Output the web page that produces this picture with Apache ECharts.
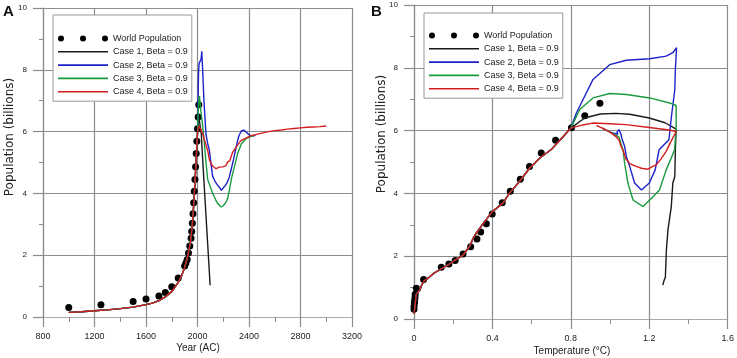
<!DOCTYPE html>
<html>
<head>
<meta charset="utf-8">
<script src="https://cdn.jsdelivr.net/npm/echarts@6/dist/echarts.min.js"></script>
<style>
  html, body { margin: 0; padding: 0; background: #fff; }
  #main { width: 737px; height: 358px; }
</style>
</head>
<body>
<div id="main"></div>
<script>
// observed world population (billions), year and temperature anomaly
const obsYears = [1000, 1250, 1500, 1600, 1700, 1750, 1800, 1850, 1900, 1910, 1920, 1930, 1940, 1950, 1955, 1960, 1965, 1970, 1975, 1980, 1985, 1990, 1995, 2000, 2005, 2010];
const obsPop = [0.31, 0.4, 0.5, 0.58, 0.68, 0.79, 0.98, 1.26, 1.65, 1.75, 1.86, 2.07, 2.3, 2.55, 2.77, 3.03, 3.34, 3.7, 4.07, 4.45, 4.86, 5.29, 5.69, 6.09, 6.47, 6.87];
const obsTemp = [0, 0, 0.002, 0.003, 0.005, 0.006, 0.012, 0.049, 0.139, 0.178, 0.21, 0.25, 0.289, 0.321, 0.34, 0.369, 0.399, 0.45, 0.491, 0.542, 0.589, 0.649, 0.722, 0.803, 0.871, 0.948];

// model run shared by all cases (panel A, by year)
const modelYears = [1000, 1100, 1200, 1300, 1400, 1500, 1600, 1650, 1700, 1750, 1800, 1850, 1875, 1900, 1920, 1940, 1950, 1960, 1970, 1980, 1990, 2000];
const modelPop = [0.15, 0.17, 0.2, 0.23, 0.27, 0.32, 0.4, 0.45, 0.53, 0.65, 0.82, 1.12, 1.32, 1.6, 1.9, 2.3, 2.6, 3.0, 3.6, 4.3, 5.1, 5.95];

// model run shared by all cases (panel B, by temperature)
const modelTemp = [0, 0.004, 0.008, 0.012, 0.02, 0.03, 0.037, 0.046, 0.05, 0.071, 0.1, 0.14, 0.18, 0.207, 0.25, 0.284, 0.3, 0.318, 0.36, 0.4, 0.453, 0.487, 0.538, 0.589, 0.64, 0.7, 0.744, 0.8];
const modelPopT = [0.16, 0.35, 0.6, 0.8, 0.85, 0.92, 1.05, 1.05, 1.2, 1.3, 1.45, 1.6, 1.75, 1.87, 2.03, 2.32, 2.55, 2.74, 3.1, 3.42, 3.69, 4.01, 4.38, 4.8, 5.12, 5.4, 5.69, 6.08];

// panel A tails after 2000
const case1Years = [2005, 2010, 2015, 2020, 2030, 2036, 2060, 2080, 2098];
const case1Pop = [6.3, 6.5, 6.55, 6.45, 5.9, 5.4, 3.7, 2.3, 1.03];
const case2Years = [2004, 2008, 2012, 2020, 2028, 2033, 2040, 2050, 2066, 2080, 2092, 2105, 2118, 2135, 2150, 2170, 2185, 2200, 2215, 2230, 2245, 2260, 2280, 2300, 2320, 2340, 2360, 2380, 2400, 2420, 2450];
const case2Pop = [6.9, 7.9, 8.2, 8.25, 8.35, 8.6, 8.0, 7.0, 5.9, 5.6, 5.4, 4.95, 4.55, 4.4, 4.3, 4.2, 4.1, 4.15, 4.25, 4.35, 4.5, 4.75, 5.1, 5.5, 5.85, 6.02, 6.05, 5.98, 5.9, 5.85, 5.88];
const case3Years = [2005, 2010, 2015, 2025, 2040, 2054, 2066, 2079, 2092, 2118, 2140, 2157, 2183, 2200, 2222, 2235, 2247, 2265, 2286, 2311, 2340, 2376, 2400, 2440];
const case3Pop = [6.6, 7.0, 7.15, 6.7, 6.2, 5.6, 5.0, 4.45, 4.3, 4.0, 3.8, 3.67, 3.56, 3.6, 3.72, 3.85, 4.1, 4.5, 4.85, 5.28, 5.6, 5.77, 5.82, 5.87];
const case4Years = [2005, 2010, 2015, 2025, 2040, 2060, 2079, 2092, 2105, 2120, 2135, 2144, 2157, 2170, 2183, 2195, 2210, 2222, 2234, 2250, 2273, 2300, 2337, 2380, 2415, 2450, 2500, 2550, 2600, 2650, 2700, 2750, 2800, 2850, 2900, 2950, 3000];
const case4Pop = [6.1, 6.18, 6.2, 6.08, 5.93, 5.65, 5.39, 5.1, 4.96, 4.88, 4.82, 4.8, 4.76, 4.85, 4.84, 4.86, 4.84, 4.9, 5.02, 5.05, 5.33, 5.5, 5.71, 5.8, 5.87, 5.9, 5.95, 6.0, 6.03, 6.05, 6.08, 6.1, 6.12, 6.14, 6.15, 6.16, 6.18];

// panel B tails after 0.8 degC
const case1Temp = [0.87, 0.95, 1.03, 1.1, 1.2, 1.28, 1.337, 1.333, 1.33, 1.32, 1.312, 1.295, 1.287, 1.282, 1.274, 1.269];
const case1PopT = [6.4, 6.53, 6.55, 6.52, 6.4, 6.25, 6.05, 5.4, 4.54, 4.33, 3.58, 2.83, 2.19, 1.34, 1.2, 1.08];
const case2Temp = [0.828, 0.862, 0.913, 0.998, 1.083, 1.202, 1.286, 1.32, 1.339, 1.333, 1.33, 1.315, 1.3, 1.25, 1.23, 1.2, 1.16, 1.125, 1.1, 1.083, 1.074, 1.06, 1.055, 1.045, 1.035, 1.04, 1.0, 0.96];
const case2PopT = [6.56, 6.99, 7.63, 8.1, 8.24, 8.29, 8.37, 8.48, 8.64, 7.95, 7.3, 6.56, 5.71, 5.39, 4.75, 4.33, 4.11, 4.33, 4.86, 5.17, 5.5, 5.75, 5.9, 6.03, 5.95, 5.88, 5.95, 6.08];
const case3Temp = [0.845, 0.913, 0.998, 1.083, 1.202, 1.304, 1.337, 1.337, 1.329, 1.31, 1.286, 1.252, 1.202, 1.168, 1.117, 1.091, 1.074, 1.066, 1.055, 1.045, 1.0, 0.96];
const case3PopT = [6.67, 7.04, 7.18, 7.15, 7.04, 6.88, 6.8, 6.13, 5.39, 5.1, 4.75, 4.11, 3.79, 3.58, 3.79, 4.33, 4.96, 5.39, 5.6, 5.8, 5.95, 6.08];
const case4Temp = [0.86, 0.91, 1.0, 1.08, 1.2, 1.3, 1.337, 1.31, 1.286, 1.26, 1.235, 1.215, 1.193, 1.16, 1.133, 1.1, 1.08, 1.07, 1.056, 1.045, 1.03, 1.0, 0.96, 0.93];
const case4PopT = [6.18, 6.24, 6.22, 6.19, 6.1, 6.02, 5.97, 5.65, 5.34, 5.1, 4.91, 4.85, 4.77, 4.8, 4.86, 4.95, 5.1, 5.3, 5.5, 5.7, 5.81, 5.95, 6.08, 6.17];

const names = ['World Population', 'Case 1, Beta = 0.9', 'Case 2, Beta = 0.9', 'Case 3, Beta = 0.9', 'Case 4, Beta = 0.9'];
const colors = ['#000000', '#1a1a1a', '#1c22c8', '#1a9a3c', '#d41e1e'];

// pairs helper
const zip = (xs, ys) => xs.map((x, i) => [x, ys[i]]);

const tailsA = [[case1Years, case1Pop], [case2Years, case2Pop], [case3Years, case3Pop], [case4Years, case4Pop]];
const tailsB = [[case1Temp, case1PopT], [case2Temp, case2PopT], [case3Temp, case3PopT], [case4Temp, case4PopT]];

const font = '"Liberation Sans", Arial, sans-serif';
const gridColor = '#8c8c8c';

const makeX = (gi, min, max, interval) => ({
    gridIndex: gi, type: 'value', min: min, max: max, interval: interval,
    axisLine: { show: true, onZero: false, lineStyle: { color: '#aaa', width: 1.2 } },
    axisTick: { show: true, length: 10, lineStyle: { color: gridColor, width: 1.2 } },
    minorTick: { show: true, splitNumber: 2, length: 5, lineStyle: { color: gridColor } },
    splitLine: { show: true, lineStyle: { color: gridColor, width: 1.2 } },
    axisLabel: { fontSize: 9, color: '#222', margin: 15, fontFamily: font, formatter: v => String(v) }
});
const makeY = (gi) => ({
    gridIndex: gi, type: 'value', min: 0, max: 10, interval: 2,
    axisLine: { show: true, lineStyle: { color: gridColor, width: 1.2 } },
    axisTick: { show: true, length: 10, lineStyle: { color: gridColor, width: 1.2 } },
    minorTick: { show: true, splitNumber: 2, length: 4, lineStyle: { color: gridColor } },
    splitLine: { show: true, lineStyle: { color: gridColor, width: 1.2 } },
    axisLabel: { fontSize: 8, color: '#222', margin: 16, fontFamily: font }
});

// legend icons: three dots for the data, a plain stroke for the runs
const dotsIcon = 'path://M0,3a3,3 0 1,0 6,0a3,3 0 1,0 -6,0M22,3a3,3 0 1,0 6,0a3,3 0 1,0 -6,0M44,3a3,3 0 1,0 6,0a3,3 0 1,0 -6,0';
const lineIcon = 'path://M0,0L50,0L50,1.6L0,1.6Z';
const makeLegend = (left, top, padTop) => ({
    orient: 'vertical', left: left, top: top,
    padding: [padTop, 4, 5, 5],
    backgroundColor: '#fff', borderColor: '#999', borderWidth: 1,
    itemWidth: 50, itemHeight: 8, itemGap: 4.3,
    textStyle: { fontSize: 9, color: '#222', fontFamily: font, lineHeight: 8 },
    data: [{ name: names[0], icon: dotsIcon }].concat(names.slice(1).map(n => ({ name: n, icon: lineIcon })))
});

// build series
const series = [];
tailsA.forEach((t, i) => {
    series.push({
        name: names[i + 1], type: 'line', xAxisIndex: 0, yAxisIndex: 0,
        showSymbol: false, symbol: 'none', color: colors[i + 1],
        lineStyle: { width: 1.4, color: colors[i + 1] },
        data: zip(modelYears, modelPop).concat(zip(t[0], t[1]))
    });
});
tailsB.forEach((t, i) => {
    series.push({
        name: names[i + 1], type: 'line', xAxisIndex: 1, yAxisIndex: 1,
        showSymbol: false, symbol: 'none', color: colors[i + 1],
        lineStyle: { width: 1.4, color: colors[i + 1] },
        data: zip(modelTemp, modelPopT).concat(zip(t[0], t[1]))
    });
});
series.push({
    name: names[0], type: 'scatter', xAxisIndex: 0, yAxisIndex: 0,
    symbolSize: 7, itemStyle: { color: '#000', opacity: 1 }, data: zip(obsYears, obsPop)
});
series.push({
    name: names[0], type: 'scatter', xAxisIndex: 1, yAxisIndex: 1,
    symbolSize: 7, itemStyle: { color: '#000', opacity: 1 }, data: zip(obsTemp, obsPop)
});

const chart = echarts.init(document.getElementById('main'));
const option = {
    animation: false,
    backgroundColor: '#fff',
    grid: [
        { left: 43, top: 8, width: 309, height: 309 },
        { left: 414, top: 5, width: 314, height: 314 }
    ],
    xAxis: [makeX(0, 800, 3200, 400), makeX(1, 0, 1.6, 0.4)],
    yAxis: [makeY(0), makeY(1)],
    legend: [makeLegend(53, 15, 19), makeLegend(424, 13, 18)],
    graphic: [
        { type: 'text', left: 3, top: 4, style: { text: 'A', font: 'bold 15px ' + font, fill: '#111' } },
        { type: 'text', left: 371, top: 4, style: { text: 'B', font: 'bold 15px ' + font, fill: '#111' } },
        { type: 'text', x: 10, y: 137, rotation: Math.PI / 2, style: { text: 'Population (billions)', font: '12px "DejaVu Sans"', fill: '#222', align: 'center', verticalAlign: 'middle' } },
        { type: 'text', x: 382, y: 134, rotation: Math.PI / 2, style: { text: 'Population (billions)', font: '12px "DejaVu Sans"', fill: '#222', align: 'center', verticalAlign: 'middle' } },
        { type: 'text', x: 198, y: 348, style: { text: 'Year (AC)', font: '10px ' + font, fill: '#222', align: 'center', verticalAlign: 'middle' } },
        { type: 'text', x: 572, y: 351, style: { text: 'Temperature (\u00B0C)', font: '10px ' + font, fill: '#222', align: 'center', verticalAlign: 'middle' } }
    ],
    series: series
};
chart.setOption(option);
</script>
</body>
</html>
